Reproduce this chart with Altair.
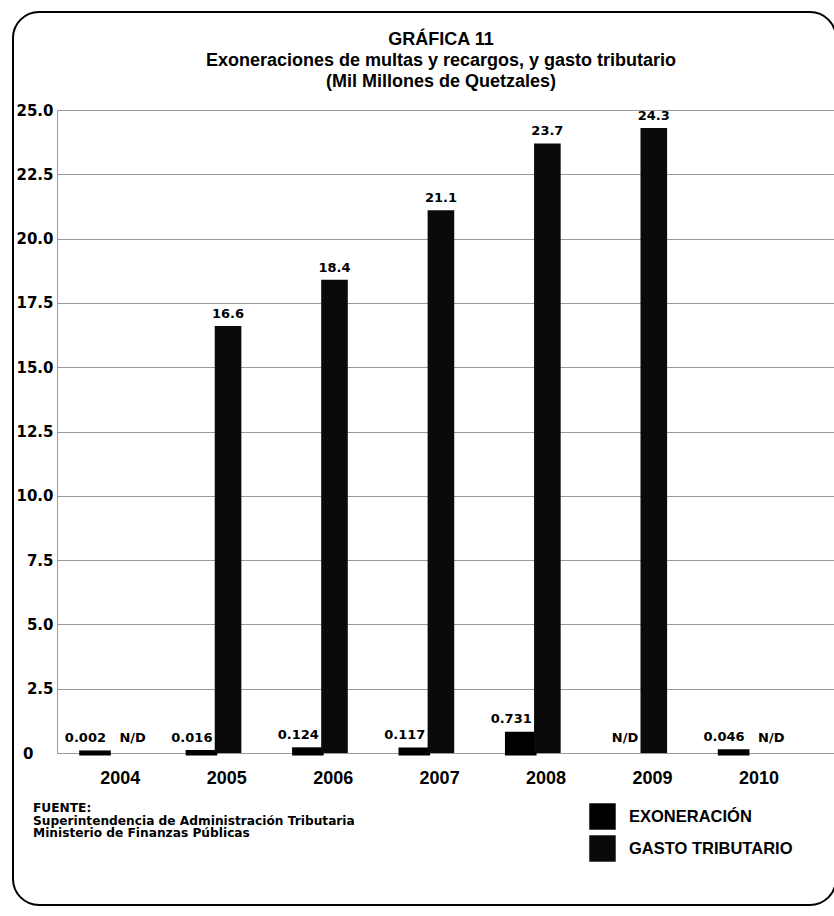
import altair as alt
import pandas as pd

years = ["2004", "2005", "2006", "2007", "2008", "2009", "2010"]
exoneracion = [0.002, 0.016, 0.124, 0.117, 0.731, None, 0.046]
gasto = [None, 16.6, 18.4, 21.1, 23.7, 24.3, None]
series = ["EXONERACIÓN", "GASTO TRIBUTARIO"]
y_ticks = [0, 2.5, 5, 7.5, 10, 12.5, 15, 17.5, 20, 22.5, 25]
title_lines = ["GRÁFICA 11",
               "Exoneraciones de multas y recargos, y gasto tributario",
               "(Mil Millones de Quetzales)"]
source_lines = ["FUENTE:",
                "Superintendencia de Administración Tributaria",
                "Ministerio de Finanzas Públicas"]

rows = []
for i, yr in enumerate(years):
    for s, vals, fmt in ((series[0], exoneracion, "{:.3f}"), (series[1], gasto, "{:.1f}")):
        v = vals[i]
        rows.append({
            "year": yr,
            "serie": s,
            "valor": v,
            "etiqueta": fmt.format(v) if v is not None else "N/D",
            "ypos": v if v is not None else 0,
        })
df = pd.DataFrame(rows)

W, H = 777, 643
FONT = "Liberation Sans"
NUMFONT = "DejaVu Sans"

x_enc = alt.X("year:N", sort=years,
              scale=alt.Scale(paddingInner=0.5, paddingOuter=0.4, align=0.29),
              axis=alt.Axis(title=None, labelAngle=0, ticks=False, labelFont=FONT,
                            labelFontWeight="bold", labelFontSize=18, labelColor="#000",
                            labelPadding=16, labelOffset=12, domainColor="#999",
                            domainDash=[2, 2], grid=False))
xoff = alt.XOffset("serie:N", sort=series)

base = alt.Chart(df)

bars = base.mark_bar(stroke="#000").encode(
    x=x_enc,
    xOffset=xoff,
    y=alt.Y("valor:Q", scale=alt.Scale(domain=[0, 25], nice=False),
            axis=alt.Axis(title=None, values=y_ticks, ticks=False,
                          labelExpr="datum.value == 0 ? '0' : format(datum.value, '.1f')",
                          labelFont=NUMFONT, labelFontWeight="bold", labelFontSize=15,
                          labelColor="#000",
                          labelPadding={"condition": {"test": "datum.value == 0", "value": 24}, "value": 4},
                          gridColor="#999", gridWidth=1, domainColor="#999")),
    color=alt.Color("serie:N", sort=series,
                    scale=alt.Scale(domain=series, range=["#000000", "#0a0a0a"]),
                    legend=alt.Legend(title=None, orient="none", legendX=532, legendY=693,
                                      symbolType="square", symbolSize=700, symbolStrokeWidth=0,
                                      labelFont=FONT, labelFontWeight="bold", labelFontSize=16.5,
                                      labelLimit=400, labelColor="#000", labelOffset=13,
                                      rowPadding=5, padding=0)),
    strokeWidth=alt.condition(alt.datum.serie == series[0], alt.value(5), alt.value(0)),
).transform_filter("isValid(datum.valor)")

exo_labels = base.mark_text(font=NUMFONT, fontWeight="bold", fontSize=13, align="right",
                            baseline="bottom", dx=11, dy=-8, color="#000").encode(
    x=alt.X("year:N", sort=years), xOffset=xoff, y=alt.Y("ypos:Q"), text="etiqueta:N"
).transform_filter(alt.datum.serie == series[0])

gasto_labels = base.mark_text(font=NUMFONT, fontWeight="bold", fontSize=13, align="center",
                              baseline="bottom", dy=-5, color="#000").encode(
    x=alt.X("year:N", sort=years), xOffset=xoff, y=alt.Y("ypos:Q"), text="etiqueta:N"
).transform_filter((alt.datum.serie == series[1]) & (alt.datum.etiqueta != "N/D"))

gasto_nd = base.mark_text(font=NUMFONT, fontWeight="bold", fontSize=13, align="center",
                          baseline="bottom", dx=11, dy=-8, color="#000").encode(
    x=alt.X("year:N", sort=years), xOffset=xoff, y=alt.Y("ypos:Q"), text="etiqueta:N"
).transform_filter((alt.datum.serie == series[1]) & (alt.datum.etiqueta == "N/D"))

title = alt.Chart(alt.Data(values=[{"t": "\n".join(title_lines)}])).mark_text(
    font=FONT, fontWeight="bold", fontSize=18, align="center", baseline="middle",
    lineBreak="\n", lineHeight=21, color="#000"
).encode(x=alt.value(384), y=alt.value(-70), text="t:N")

src = alt.Chart(alt.Data(values=[{"t": "\n".join(source_lines)}])).mark_text(
    font=NUMFONT, fontWeight="bold", fontSize=12.2, align="left", baseline="middle",
    lineBreak="\n", lineHeight=12.5, color="#000"
).encode(x=alt.value(-24), y=alt.value(698), text="t:N")

frame = alt.Chart(alt.Data(values=[{}])).mark_rect(
    fill=None, stroke="#000", strokeWidth=2, cornerRadius=26
).encode(x=alt.value(-44), x2=alt.value(779), y=alt.value(-98), y2=alt.value(795))

chart = alt.layer(frame, title, bars, exo_labels, gasto_labels, gasto_nd, src).properties(
    width=W, height=H,
    autosize=alt.AutoSizeParams(type="none"),
    padding={"left": 57, "top": 110, "right": 0, "bottom": 163},
    background="white",
).configure_view(stroke=None)

chart.save("out.html", embed_options={"renderer": "svg", "actions": False})
